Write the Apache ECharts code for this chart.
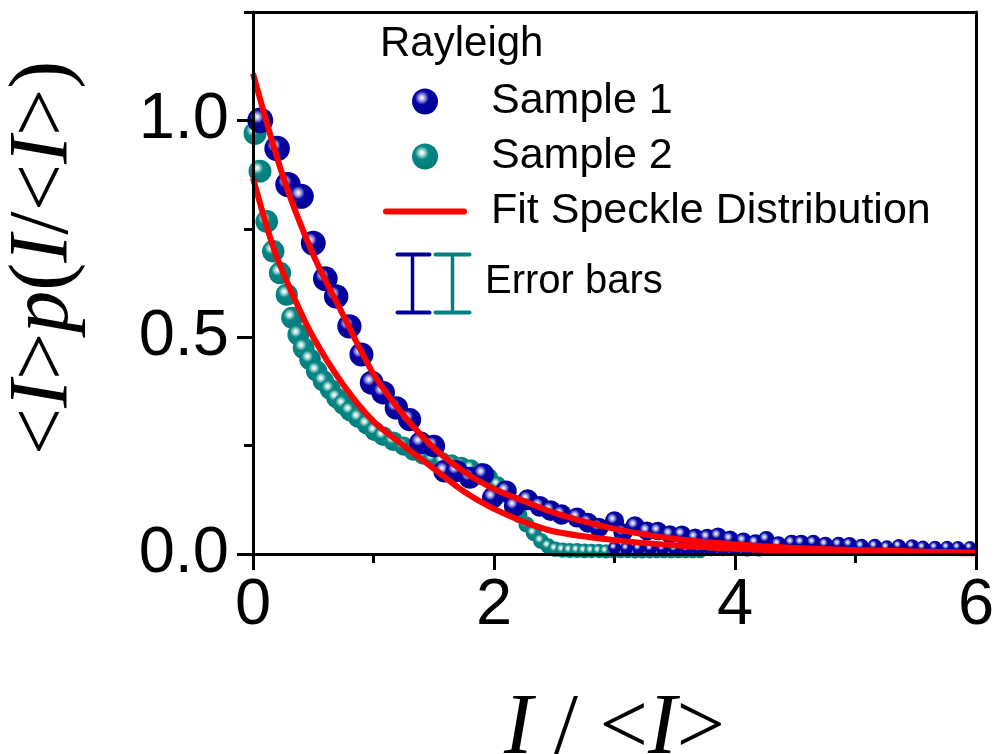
<!DOCTYPE html>
<html>
<head>
<meta charset="utf-8">
<script src="https://cdn.jsdelivr.net/npm/echarts@6/dist/echarts.min.js"></script>
<style>
html,body{margin:0;padding:0;background:#fff;}
#chart{width:995px;height:754px;}
</style>
</head>
<body>
<div id="chart"></div>
<script>
// ---- data ----
var sample1X = [0.06,0.2,0.29,0.4,0.5,0.6,0.69,0.8,0.9,0.985,1.08,1.19,1.3,1.39,1.5,1.59,1.69,1.8,1.91,1.99,2.1,2.17,2.28,2.38,2.47,2.56,2.69,2.78,2.87,3.0,3.07,3.17,3.27,3.36,3.46,3.56,3.67,3.77,3.86,3.96,4.07,4.17,4.26,4.36,4.47,4.55,4.65,4.75,4.86,4.95,5.05,5.16,5.26,5.36,5.47,5.56,5.66,5.76,5.85,5.95];
var sample1Y = [1.0,0.935,0.852,0.825,0.717,0.635,0.594,0.525,0.46,0.395,0.372,0.337,0.31,0.256,0.249,0.191,0.191,0.176,0.184,0.13,0.145,0.11,0.125,0.11,0.1,0.091,0.084,0.072,0.061,0.076,0.049,0.065,0.053,0.053,0.045,0.045,0.038,0.038,0.041,0.034,0.03,0.026,0.034,0.022,0.026,0.026,0.026,0.022,0.022,0.022,0.018,0.018,0.015,0.018,0.018,0.015,0.015,0.015,0.015,0.015];
var sample1LowX = [3.0,3.1,3.2,3.3,3.4,3.5,3.6,3.7,3.8,3.9,4.0,4.1,4.2];
var sample1LowY = [0.014,0.013,0.013,0.012,0.012,0.011,0.011,0.011,0.01,0.01,0.01,0.009,0.009];
var sample2X = [0.017,0.058,0.114,0.168,0.224,0.28,0.325,0.376,0.42,0.473,0.528,0.584,0.64,0.694,0.749,0.805,0.874,0.944,1.01,1.08,1.165,1.25,1.33,1.41,1.49,1.57,1.65,1.73,1.81,1.89,1.96,2.03,2.09,2.15,2.21,2.27,2.33,2.39,2.45,2.51,2.57,2.63,2.69,2.75,2.81,2.87,2.93,2.99,3.05,3.11,3.17,3.23,3.29,3.35,3.41,3.47,3.53,3.59,3.65,3.71];
var sample2Y = [0.97,0.883,0.767,0.698,0.648,0.598,0.545,0.506,0.475,0.449,0.422,0.399,0.38,0.36,0.345,0.33,0.314,0.299,0.283,0.272,0.26,0.249,0.237,0.228,0.22,0.214,0.209,0.204,0.198,0.19,0.178,0.16,0.138,0.113,0.09,0.068,0.048,0.03,0.018,0.011,0.009,0.008,0.008,0.007,0.007,0.007,0.006,0.006,0.006,0.006,0.005,0.005,0.005,0.005,0.005,0.005,0.005,0.005,0.005,0.005];
var fit1X = [0,0.25,0.5,0.75,1.0,1.25,1.5,1.75,2.0,2.25,2.5,3.0,3.5,4.0,4.5,5.0,5.5,6.0];
var fit1Y = [1.108,0.87,0.69,0.55,0.415,0.32,0.245,0.19,0.15,0.122,0.095,0.058,0.035,0.022,0.014,0.009,0.006,0.003];
var fit2X = [0,0.17,0.33,0.5,0.75,1.0,1.25,1.5,1.75,2.0,2.25,2.5,3.0,3.5,4.0,4.5,5.0,5.5,6.0];
var fit2Y = [0.867,0.706,0.598,0.5,0.39,0.306,0.25,0.197,0.144,0.104,0.074,0.052,0.032,0.02,0.012,0.007,0.004,0.003,0.002];
var xMajorTicks = [0,2,4,6];
var xMinorTicks = [1,3,5];
var yMajorTicks = [0,0.5,1.0];
var yMinorTicks = [0.25,0.75,1.25];
var legendNames = ['Sample 1','Sample 2','Fit Speckle Distribution'];

function pairs(xs, ys){ return xs.map(function(x,i){ return [x, ys[i]]; }); }

var blueGrad = {type:'radial', x:0.38, y:0.36, r:0.62, colorStops:[
  {offset:0,color:'#ffffff'},{offset:0.1,color:'#d4d4f6'},{offset:0.26,color:'#7676d2'},
  {offset:0.42,color:'#0404a4'},{offset:1,color:'#000096'}]};
var tealGrad = {type:'radial', x:0.38, y:0.36, r:0.62, colorStops:[
  {offset:0,color:'#ffffff'},{offset:0.1,color:'#dcf2f0'},{offset:0.26,color:'#74bfba'},
  {offset:0.42,color:'#058684'},{offset:1,color:'#007c7a'}]};

var FONT = 'Liberation Sans, Arial, sans-serif';
var SERIF = 'Liberation Serif, Times New Roman, serif';
var tickStyle = {color:'#000', width:3};

var chart = echarts.init(document.getElementById('chart'), null, {renderer:'canvas'});
var option = {
  backgroundColor:'#ffffff',
  animation:false,
  grid:{left:253, right:19, top:12, bottom:200, containLabel:false, outerBoundsMode:'none'},
  legend:{
    orient:'vertical', left:378, top:75, itemWidth:84, itemHeight:26, itemGap:12,
    selectedMode:false,
    data:[
      {name:legendNames[0]},
      {name:legendNames[1]},
      {name:legendNames[2], icon:'path://M3,0H81A3,3 0 0 1 81,6H3A3,3 0 0 1 3,0Z'}
    ],
    textStyle:{fontFamily:FONT, fontSize:43, color:'#000', lineHeight:43, padding:[0,0,0,19]}
  },
  xAxis:[
    {type:'value', min:0, max:6, position:'bottom', z:10,
     axisLine:{show:true, onZero:false, lineStyle:{color:'#000', width:3}},
     axisTick:{show:true, customValues:xMajorTicks, length:16, lineStyle:tickStyle},
     axisLabel:{customValues:xMajorTicks, fontFamily:FONT, fontSize:65, color:'#000', margin:20},
     splitLine:{show:false},
     name:'{i|I}{n| / <}{i|I}{n|>}', nameLocation:'middle', nameGap:133,
     nameTextStyle:{rich:{
       i:{fontFamily:SERIF, fontStyle:'italic', fontSize:86, color:'#000'},
       n:{fontFamily:SERIF, fontSize:86, color:'#000'}}}
    },
    {type:'value', min:0, max:6, position:'bottom', z:10,
     axisLine:{show:false}, axisLabel:{show:false}, splitLine:{show:false},
     axisTick:{show:true, customValues:xMinorTicks, length:9, lineStyle:tickStyle}},
    {type:'value', min:0, max:6, position:'top', z:10,
     axisLine:{show:true, onZero:false, lineStyle:{color:'#000', width:3}},
     axisTick:{show:false}, axisLabel:{show:false}, splitLine:{show:false}}
  ],
  yAxis:[
    {type:'value', min:0, max:1.25, position:'left', z:10,
     axisLine:{show:true, onZero:false, lineStyle:{color:'#000', width:3}},
     axisTick:{show:true, customValues:yMajorTicks, length:16, lineStyle:tickStyle},
     axisLabel:{customValues:yMajorTicks, fontFamily:FONT, fontSize:65, color:'#000', margin:24,
       formatter:function(v){ return v.toFixed(1); }},
     splitLine:{show:false},
     name:'{n|<}{i|I}{n|>}{i|p}{n|(}{i|I}{n|/<}{i|I}{n|>)}', nameLocation:'middle', nameRotate:90, nameGap:166,
     nameTextStyle:{padding:[0,0,0,50], rich:{
       i:{fontFamily:SERIF, fontStyle:'italic', fontSize:84, color:'#000'},
       n:{fontFamily:SERIF, fontSize:84, color:'#000'}}}
    },
    {type:'value', min:0, max:1.25, position:'left', z:10,
     axisLine:{show:false}, axisLabel:{show:false}, splitLine:{show:false},
     axisTick:{show:true, customValues:yMinorTicks, length:9, lineStyle:tickStyle}},
    {type:'value', min:0, max:1.25, position:'right', z:10,
     axisLine:{show:true, onZero:false, lineStyle:{color:'#000', width:3}},
     axisTick:{show:false}, axisLabel:{show:false}, splitLine:{show:false}}
  ],
  series:[
    {name:'Sample 2', type:'scatter', xAxisIndex:0, yAxisIndex:0, z:2,
     data:pairs(sample2X, sample2Y),
     symbolSize:function(v){ return Math.max(13, 23 - 3*v[0]); },
     itemStyle:{color:tealGrad, opacity:1}},
    {name:'Sample 1', type:'scatter', xAxisIndex:0, yAxisIndex:0, z:3,
     data:pairs(sample1LowX, sample1LowY), symbolSize:13,
     itemStyle:{color:blueGrad, opacity:1}},
    {name:'Sample 1', type:'scatter', xAxisIndex:0, yAxisIndex:0, z:3,
     data:pairs(sample1X, sample1Y),
     symbolSize:function(v){ return Math.max(13, 26 - 2.2*v[0]); },
     itemStyle:{color:blueGrad, opacity:1}},
    {name:'Fit Speckle Distribution', type:'line', xAxisIndex:0, yAxisIndex:0, z:4,
     data:pairs(fit1X, fit1Y), symbol:'none', smooth:0.3,
     lineStyle:{color:'#ff0000', width:6}, itemStyle:{color:'#ff0000'}},
    {name:'Fit Speckle Distribution', type:'line', xAxisIndex:0, yAxisIndex:0, z:4,
     data:pairs(fit2X, fit2Y), symbol:'none', smooth:0.3,
     lineStyle:{color:'#ff0000', width:6}, itemStyle:{color:'#ff0000'}}
  ],
  graphic:[
    {type:'text', left:380, top:23, style:{text:'Rayleigh', font:'42px ' + FONT, fill:'#000'}},
    {type:'group', left:395, top:252, children:[
      {type:'polyline', shape:{points:[[2,2],[34,2]]}, style:{stroke:'#000099', lineWidth:4, lineCap:'round'}},
      {type:'polyline', shape:{points:[[17,2],[17,60]]}, style:{stroke:'#000099', lineWidth:3.5}},
      {type:'polyline', shape:{points:[[2,60],[34,60]]}, style:{stroke:'#000099', lineWidth:4, lineCap:'round'}},
      {type:'polyline', shape:{points:[[40,2],[74,2]]}, style:{stroke:'#008080', lineWidth:4, lineCap:'round'}},
      {type:'polyline', shape:{points:[[57,2],[57,60]]}, style:{stroke:'#008080', lineWidth:3.5}},
      {type:'polyline', shape:{points:[[40,60],[74,60]]}, style:{stroke:'#008080', lineWidth:4, lineCap:'round'}}
    ]},
    {type:'text', left:485, top:262, style:{text:'Error bars', font:'40px ' + FONT, fill:'#000'}}
  ]
};
chart.setOption(option);
</script>
</body>
</html>
